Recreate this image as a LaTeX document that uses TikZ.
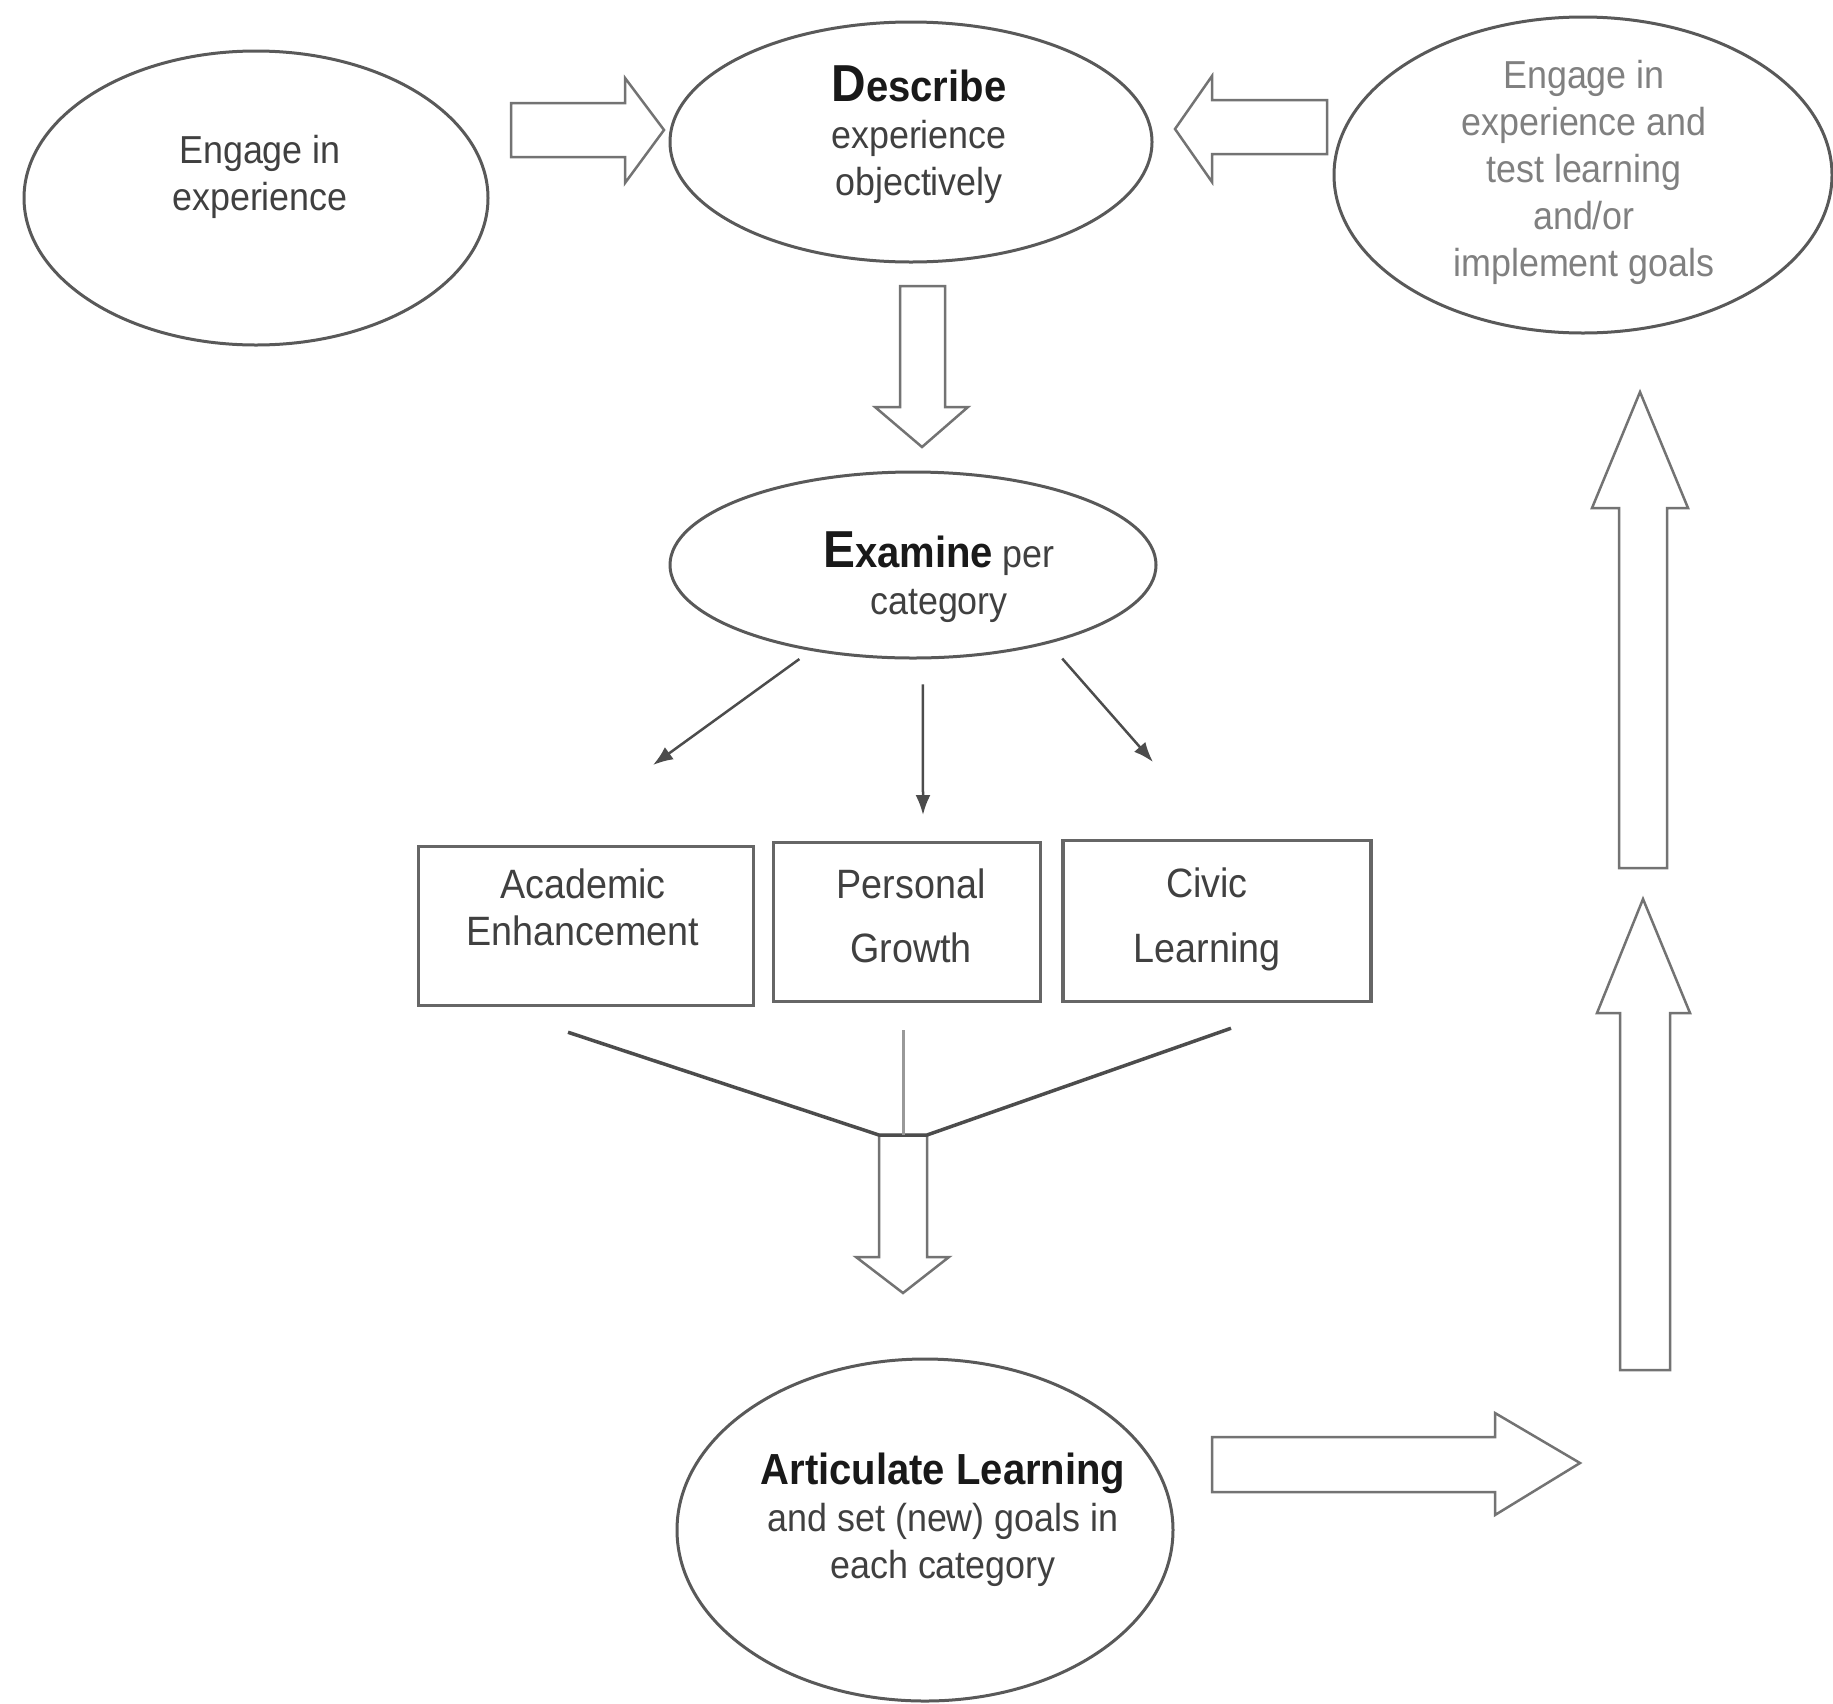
\documentclass[tikz,border=0pt]{standalone}
\usepackage{fontspec}
\setmainfont[FakeStretch=0.92]{Liberation Sans}
\usetikzlibrary{calc,arrows.meta,shapes.geometric}

\begin{document}
\begin{tikzpicture}[x=1pt,y=-1pt,
  oval/.style={ellipse,draw=black!65,line width=3pt,inner sep=0pt},
  txt/.style={align=center,text=black!75,inner sep=0pt,font=\fontsize{39}{47}\selectfont},
  catbox/.style={rectangle,draw=black!60,line width=3.5pt,inner sep=0pt},
  cattxt/.style={align=center,text=black!75,inner sep=0pt,font=\fontsize{41}{47}\selectfont},
  blk/.style={draw=black!55,line width=2.5pt,fill=white,line join=miter},
  catarrow/.style={->,>={Latex[length=20pt,width=15pt]},draw=black!70,line width=2.5pt},
  funnel/.style={draw=black!70,line width=3.5pt}]
\useasboundingbox (0,0) rectangle (1833,1703);
\node[oval,minimum width=464,minimum height=294] (engage) at (256,198) {};
\node[oval,minimum width=482,minimum height=240] (describe) at (911,142) {};
\node[oval,minimum width=498,minimum height=316] (retest) at (1583,175) {};
\node[oval,minimum width=486,minimum height=186] (examine) at (913,565) {};
\node[oval,minimum width=496,minimum height=342] (articulate) at (925,1530) {};
\node[txt] (engage-t) at (260,177) {Engage in\\experience};
\node[txt] (describe-t) at (919,135) {{\color{black!90}\bfseries\fontsize{52}{47}\selectfont D}{\color{black!90}\bfseries\fontsize{43.5}{47}\selectfont escribe}\\experience\\objectively};
\node[txt,text=black!50] (retest-t) at (1584,172) {Engage in\\experience and\\test learning\\and/or\\implement goals};
\node[txt] (examine-t) at (939,577) {{\color{black!90}\bfseries\fontsize{52}{47}\selectfont E}{\color{black!90}\bfseries\fontsize{43.5}{47}\selectfont xamine} per\\category};
\node[txt] (articulate-t) at (943,1520) {{\color{black!90}\bfseries\fontsize{43.5}{47}\selectfont Articulate Learning}\\and set (new) goals in\\each category};
\node[catbox,minimum width=335,minimum height=159] (acad) at (586,926) {};
\node[catbox,minimum width=267,minimum height=159] (pers) at (907,922) {};
\node[catbox,minimum width=308,minimum height=161] (civic) at (1217,921) {};
\node[cattxt] (acad-t) at (583,907) {Academic\\Enhancement};
\node[cattxt] (pers-t) at (911,916) {Personal\\[17pt]Growth};
\node[cattxt] (civic-t) at (1207,919) {Civic\\[18pt]Learning};
\draw[blk] (511,103) -- (625,103) -- (625,78) -- (664,130) -- (625,183) -- (625,157) -- (511,157) -- cycle;
\draw[blk] (1175,129) -- (1212,76) -- (1212,100) -- (1327,100) -- (1327,154) -- (1212,154) -- (1212,182) -- cycle;
\draw[blk] (900,286) -- (945,286) -- (945,407) -- (968,407) -- (922,447) -- (875,407) -- (900,407) -- cycle;
\draw[blk] (879,1135) -- (879,1257) -- (856,1257) -- (903,1293) -- (949,1257) -- (927,1257) -- (927,1135) -- cycle;
\draw[blk] (1212,1437) -- (1495,1437) -- (1495,1413) -- (1580,1463) -- (1495,1515) -- (1495,1492) -- (1212,1492) -- cycle;
\draw[blk] (1620,1370) -- (1620,1013) -- (1597,1013) -- (1643,899) -- (1690,1013) -- (1670,1013) -- (1670,1370) -- cycle;
\draw[blk] (1619,868) -- (1619,508) -- (1592,508) -- (1640,392) -- (1688,508) -- (1667,508) -- (1667,868) -- cycle;
\coordinate (acad-in) at (653,765);
\coordinate (pers-in) at (923,815);
\coordinate (civic-in) at (1153,762);
\draw[catarrow,shorten <=14pt] (examine.220) -- (acad-in);
\draw[catarrow,shorten <=25pt] (examine.276) -- (pers-in);
\draw[catarrow,shorten <=20pt] (examine.330) -- (civic-in);
\coordinate (jl) at (879,1135);
\coordinate (jr) at (927,1135);
\draw[funnel] ($(acad.south)+(-18,25)$) -- (jl) -- (jr) -- ($(civic.south)+(14,25)$);
\draw[funnel,draw=black!40,line width=3pt] ($(pers.south)+(-4,27)$) -- ($(jl)!0.5!(jr)$);
\end{tikzpicture}
\end{document}
